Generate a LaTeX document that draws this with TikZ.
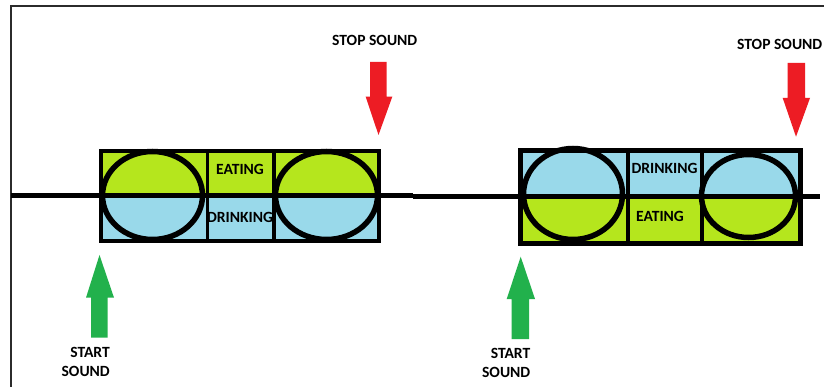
\documentclass[tikz,border=0pt]{standalone}
\usepackage{fontspec}
\setmainfont{Carlito}
\definecolor{lime}{HTML}{B5E61D}
\definecolor{sky}{HTML}{99D9EA}
\definecolor{stopred}{HTML}{ED1C24}
\definecolor{startgreen}{HTML}{22B14C}
\definecolor{framegray}{HTML}{2B2B2B}
\tikzset{
  label/.style={font=\bfseries\fontsize{15.6}{19}\selectfont, inner sep=0pt, text=black},
  boxedge/.style={draw=black, line width=4.5pt},
  divider/.style={draw=black, line width=3.5pt},
  ring/.style={draw=black, line width=5.5pt},
  axis/.style={draw=black, line width=5pt},
  stoparrow/.style={fill=stopred},
  startarrow/.style={fill=startgreen},
}
\begin{document}
\begin{tikzpicture}[x=1pt,y=-1pt]
\useasboundingbox (0,0) rectangle (824,387);
\fill[white] (0,0) rectangle (824,387);

% outer frame
\draw[framegray, line width=2pt] (11,387) -- (11,6) -- (824,6);

% first bar: eating above, drinking below
\fill[lime] (101,151) rectangle (379,195.5);
\fill[sky]  (101,195.5) rectangle (379,241);
% second bar: drinking above, eating below
\fill[sky]  (520.5,150.5) rectangle (800.5,196.5);
\fill[lime] (520.5,196.5) rectangle (800.5,243.5);

% timeline
\draw[axis] (11,195.5) -- (413,195.5);
\draw[axis] (413,196.5) -- (820,196.5);

% cell labels
\node[label] (eatA)   at (240,169.3) {EATING};
\node[label] (drinkA) at (240,217.3) {DRINKING};
\node[label] (drinkB) at (664.5,168.3) {DRINKING};
\node[label] (eatB)   at (660,216) {EATING};

% cell dividers and bar outlines
\draw[divider] (207.5,151) -- (207.5,241);
\draw[divider] (274,151) -- (274,241);
\draw[divider] (628,150.5) -- (628,243.5);
\draw[divider] (702,150.5) -- (702,243.5);
\draw[boxedge] (101,151) rectangle (379,241);
\draw[boxedge] (520.5,150.5) rectangle (800.5,243.5);

% rings
\draw[ring] (152.5,195.5) ellipse [x radius=50pt, y radius=44pt];
\draw[ring] (326.5,195.5) ellipse [x radius=51pt, y radius=44pt];
\draw[ring] (573,194) ellipse [x radius=49.5pt, y radius=45.5pt];
\draw[ring] (748.5,196) ellipse [x radius=47pt, y radius=41.5pt];

% stop arrows
\fill[stoparrow] (370,62) -- (386.7,62) -- (386.7,96.7) -- (392.3,96.7)
  -- (378.5,135) -- (365.7,96.7) -- (370,96.7) -- cycle;
\fill[stoparrow] (787.7,63) -- (805,63) -- (805,98) -- (810,98)
  -- (796,136.7) -- (782.7,98) -- (787.7,98) -- cycle;

% start arrows
\fill[startarrow] (91,337.7) -- (107.7,337.7) -- (107.7,297.7) -- (114,297.7)
  -- (99.5,255) -- (86,297.7) -- (91,297.7) -- cycle;
\fill[startarrow] (511.7,339) -- (529,339) -- (529,299) -- (535,299)
  -- (520.7,256.7) -- (506.7,299) -- (511.7,299) -- cycle;

% sound labels
\node[label, anchor=west] (stopA) at (332,40) {STOP SOUND};
\node[label, anchor=east] (stopB) at (822.5,44) {STOP SOUND};
\node[label, anchor=east, align=right] (startA) at (110,362.2) {START\\SOUND};
\node[label, anchor=east, align=right] (startB) at (530.5,363.3) {START\\SOUND};
\end{tikzpicture}
\end{document}
